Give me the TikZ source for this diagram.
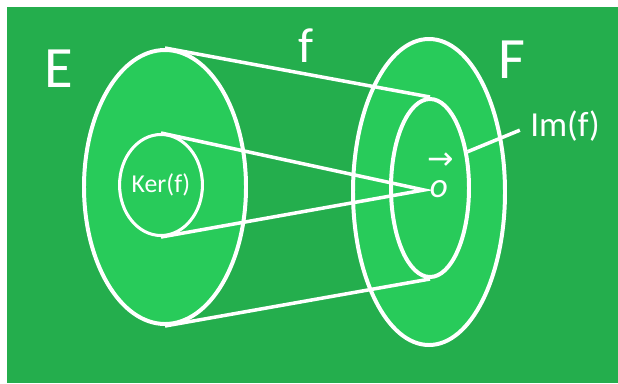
\documentclass[tikz,border=0pt]{standalone}
\usepackage{fontspec}
\setmainfont{Carlito}
\newfontfamily\arrowfont{DejaVu Sans}
\usetikzlibrary{shapes.geometric}

\definecolor{boarddark}{RGB}{36,174,77}
\definecolor{boardlight}{RGB}{40,203,90}

\tikzset{
    setline/.style={ellipse, draw=white, line width=3.4pt, fill=boardlight, inner sep=0pt},
    maplink/.style={white, line width=3pt},
    chalk/.style={text=white, inner sep=0pt},
}

\begin{document}
\begin{tikzpicture}[x=0.3mm,y=-0.3mm]
    \useasboundingbox (0,0) rectangle (618,383);
    \fill[boarddark] (7,7) rectangle (618,383);

    % the two sets
    \node[setline, minimum width=48.6mm, minimum height=82.2mm] (Eset) at (165,187) {};
    \node[setline, minimum width=45.6mm, minimum height=91.8mm] (Fset) at (429,192) {};

    % kernel and image
    \node[setline, line width=2.6pt, minimum width=24mm, minimum height=30.3mm,
          text=white, font=\fontsize{22}{24}\selectfont] (kerset) at (161,185) {Ker(f)};
    \node[setline, minimum width=23.4mm, minimum height=53.4mm] (imset) at (430,188) {};

    \coordinate (zeropt) at (424,190);

    \draw[maplink] (Eset.north) -- (imset.north);
    \draw[maplink] (Eset.south) -- (imset.south);
    \draw[maplink] (kerset.north) -- (zeropt) -- (kerset.south);

    % labels
    \node[chalk, font=\fontsize{50}{52}\selectfont] (Elabel) at (59,69) {E};
    \node[chalk, font=\fontsize{50}{52}\selectfont] (Flabel) at (512,60) {F};
    \node[chalk, font=\fontsize{42}{44}\selectfont] (flabel) at (306,46) {f};
    \node[chalk, font=\fontsize{30}{32}\selectfont] (imlabel) at (565,126) {Im(f)};
    \node[chalk, font=\arrowfont\fontsize{27}{27}\selectfont] (arrowlabel) at (441,161) {→};
    \node[chalk, font=\fontsize{30}{30}\selectfont\itshape] (zerolabel) at (439,189) {o};

    \draw[maplink, shorten >=3.3mm] (imset.44) -- (imlabel.west);
\end{tikzpicture}
\end{document}
